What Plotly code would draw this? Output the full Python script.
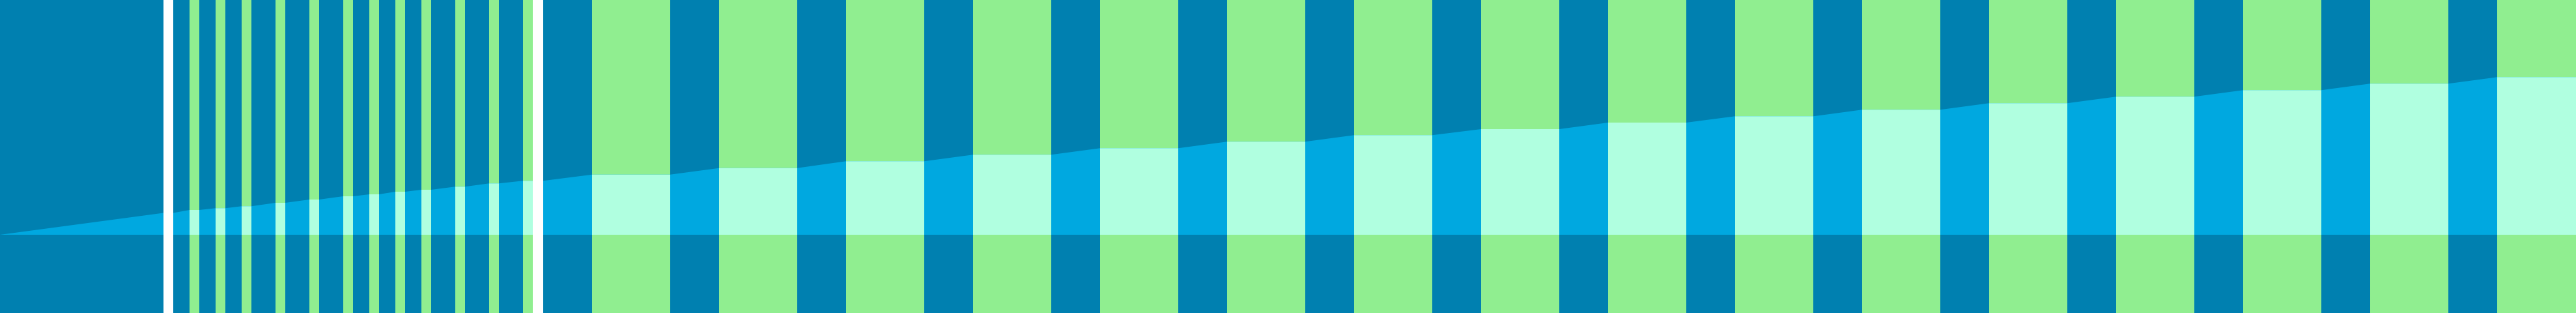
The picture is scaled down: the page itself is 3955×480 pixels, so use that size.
import plotly.graph_objects as go

# ---- data (x in arbitrary units, y in value units) ----
# white separator bands
white_x0 = [25.1, 81.8]
white_x1 = [26.6, 83.4]
white_level = [0.279, 0.689]

# green bands
green_x0 = [29.1, 33.1, 37.1, 42.3, 47.5, 52.7, 56.7, 60.7, 64.7, 69.9, 75.1, 80.3,
            90.9, 110.4, 129.9, 149.4, 168.9, 188.4, 207.9, 227.4, 246.9, 266.4,
            285.9, 305.4, 324.9, 344.4, 363.9, 383.4]
green_x1 = [30.6, 34.6, 38.6, 43.8, 49.0, 54.2, 58.2, 62.2, 66.2, 71.4, 76.6, 81.8,
            102.9, 122.4, 141.9, 161.4, 180.9, 200.4, 219.9, 239.4, 258.9, 278.4,
            297.9, 317.4, 336.9, 356.4, 375.9, 395.5]
green_level = [0.316, 0.339, 0.364, 0.408, 0.450, 0.491, 0.516, 0.550, 0.575, 0.614, 0.656, 0.689,
               0.769, 0.853, 0.939, 1.022, 1.106, 1.189, 1.272, 1.350, 1.433, 1.514,
               1.597, 1.681, 1.764, 1.848, 1.931, 2.014]

start_x = 0.0
start_value = 0.0
x_range = [0, 395.5]
y_range = [-1, 3]

# ---- colors ----
DARK = "#0080B0"
AREA = "#00A8E0"
GREEN = "#90EE90"
AQUA = "#B0FFE0"
WHITE = "#FFFFFF"

# build area outline through band plateaus
bands = sorted(zip(white_x0 + green_x0, white_x1 + green_x1, white_level + green_level))
ax, ay = [start_x], [start_value]
for x0, x1, lv in bands:
    ax += [x0, x1]
    ay += [lv, lv]

fig = go.Figure()

# green full-height bands
for x0, x1 in zip(green_x0, green_x1):
    fig.add_vrect(x0=x0, x1=x1, fillcolor=GREEN, opacity=1, line_width=0, layer="below")

# area
fig.add_trace(go.Scatter(x=ax, y=ay, mode="lines", fill="tozeroy", fillcolor=AREA,
                         line=dict(width=0, color=AREA), hoverinfo="skip"))

# plateau overlap inside green bands
px, py = [], []
for x0, x1, lv in zip(green_x0, green_x1, green_level):
    px += [x0, x1, x1, x0, x0, None]
    py += [0, 0, lv, lv, 0, None]
fig.add_trace(go.Scatter(x=px, y=py, mode="lines", fill="toself", fillcolor=AQUA,
                         line=dict(width=0, color=AQUA), hoverinfo="skip"))

# white separators on top
for x0, x1 in zip(white_x0, white_x1):
    fig.add_vrect(x0=x0, x1=x1, fillcolor=WHITE, opacity=1, line_width=0, layer="above")

fig.update_layout(
    width=3955, height=480,
    margin=dict(l=0, r=0, t=0, b=0, pad=0),
    plot_bgcolor=DARK, paper_bgcolor=WHITE,
    showlegend=False, hovermode=False,
    xaxis=dict(range=x_range, visible=False, showgrid=False, zeroline=False, fixedrange=True),
    yaxis=dict(range=y_range, visible=False, showgrid=False, zeroline=False, fixedrange=True),
)

fig.write_html("out.html", config={"displayModeBar": False},
               post_script="document.body.style.margin='0';document.documentElement.style.overflow='hidden';")
